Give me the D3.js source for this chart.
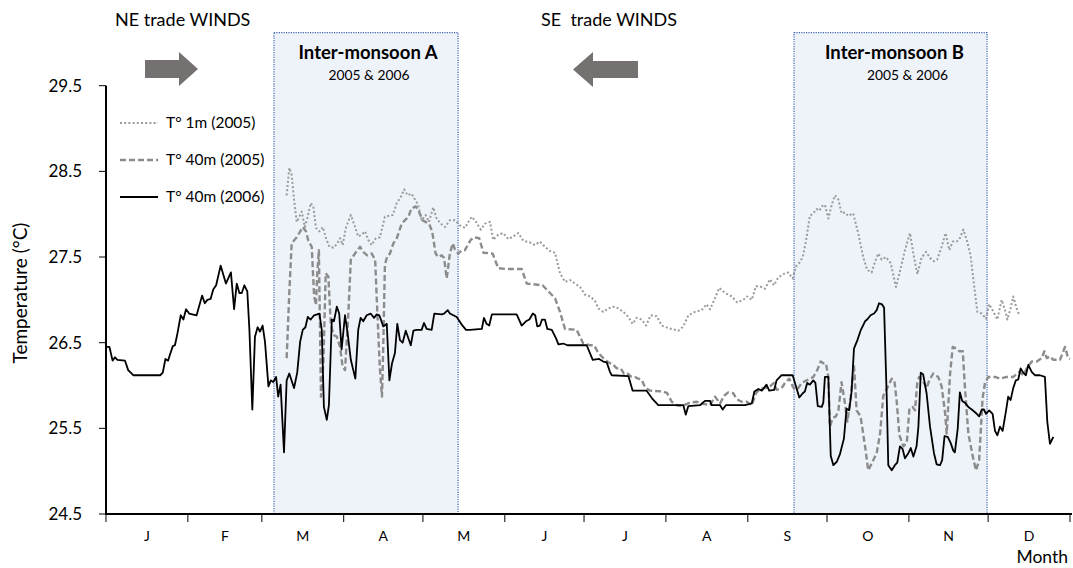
<!DOCTYPE html>
<html><head><meta charset="utf-8">
<script src="https://cdn.jsdelivr.net/npm/d3@7"></script>
<style>
html,body{margin:0;padding:0;background:#fff;}
svg{display:block;font-family:Lato,"Open Sans",sans-serif;}
</style></head>
<body><svg id="chart" width="1073" height="568"></svg>
<script>
// ---------- data ----------
const monthLabels = ["J","F","M","A","M","J","J","A","S","O","N","D"];
const monthStarts = [0,31,59,90,120,151,181,212,243,273,304,334,365];
const yTicks = [24.5,25.5,26.5,27.5,28.5,29.5];
const seriesNames = ["T° 1m (2005)","T° 40m (2005)","T° 40m (2006)"];
const periods = [
  {name:"Inter-monsoon A", sub:"2005 & 2006", start:63.6, end:133.3},
  {name:"Inter-monsoon B", sub:"2005 & 2006", start:260.5, end:333.6}
];
const windLabels = ["NE trade WINDS","SE  trade WINDS"];

// T° 1m (2005)  [day of year, °C]
const t1m2005 = [[68.4,28.22],[69.4,28.54],[70.3,28.46],[71.2,28.17],[72.2,27.91],[73.2,27.97],[74.1,28.03],[75.3,27.85],[76.2,27.95],[77.5,28.13],[78.5,28.09],[79.5,27.84],[80.8,27.80],[82.1,27.85],[83.3,27.72],[84.6,27.62],[86.1,27.61],[87.4,27.65],[88.6,27.72],[89.6,27.64],[90.9,27.85],[92.7,27.99],[94.3,27.85],[95.5,27.74],[96.8,27.76],[98.1,27.80],[99.3,27.70],[100.6,27.64],[102.2,27.72],[103.7,27.73],[105.6,27.97],[106.9,27.98],[108.6,27.99],[110.1,28.13],[111.6,28.20],[112.9,28.29],[114.2,28.22],[115.7,28.24],[117.0,28.17],[118.2,28.11],[119.5,27.93],[121.0,27.99],[122.3,27.91],[123.9,28.08],[125.2,27.95],[126.7,27.89],[128.4,27.85],[130.2,27.93],[132.1,27.93],[134.0,27.87],[135.9,27.84],[137.6,27.93],[138.5,27.97],[140.1,27.91],[141.9,27.82],[143.5,27.89],[145.4,27.91],[146.6,27.70],[148.5,27.76],[150.4,27.78],[152.3,27.71],[154.2,27.74],[156.1,27.78],[158.0,27.69],[160.5,27.67],[162.4,27.64],[164.3,27.68],[166.2,27.62],[168.1,27.57],[170.0,27.55],[171.9,27.31],[173.8,27.21],[175.7,27.23],[177.6,27.19],[179.5,27.15],[181.4,27.06],[183.3,27.04],[185.1,26.99],[186.4,26.90],[188.3,26.86],[190.2,26.90],[192.1,26.92],[194.0,26.90],[195.9,26.86],[197.8,26.80],[199.4,26.72],[200.9,26.79],[202.8,26.77],[204.5,26.70],[206.2,26.82],[208.5,26.81],[210.4,26.70],[212.9,26.67],[216.7,26.64],[218.6,26.69],[220.5,26.82],[223.0,26.86],[225.5,26.88],[227.4,26.95],[228.7,26.89],[230.6,27.02],[232.2,27.14],[234.4,27.08],[236.9,27.04],[239.0,26.97],[241.3,27.00],[242.8,27.04],[244.5,27.00],[246.1,27.16],[248.3,27.15],[249.5,27.13],[251.4,27.24],[252.9,27.17],[254.5,27.26],[256.4,27.30],[258.3,27.32],[260.0,27.25],[261.2,27.39],[262.5,27.43],[263.8,27.50],[265.0,27.68],[266.5,27.98],[267.8,28.01],[269.1,28.06],[270.1,28.04],[271.0,28.09],[272.2,28.11],[273.5,27.95],[274.8,28.11],[276.0,28.22],[277.3,28.17],[278.5,28.01],[279.8,28.02],[281.0,27.98],[282.9,28.01],[284.8,27.78],[286.7,27.50],[288.2,27.35],[289.9,27.32],[291.2,27.45],[292.4,27.54],[293.7,27.47],[295.3,27.50],[297.1,27.43],[299.1,27.15],[300.6,27.33],[302.5,27.58],[304.4,27.78],[305.7,27.54],[307.2,27.30],[308.8,27.49],[310.5,27.56],[312.0,27.49],[313.5,27.45],[314.7,27.47],[316.4,27.62],[317.9,27.78],[319.3,27.58],[320.6,27.68],[322.1,27.68],[323.3,27.72],[324.6,27.82],[325.9,27.70],[327.4,27.51],[328.6,27.19],[329.9,26.86],[331.6,26.84],[333.2,26.78],[334.4,26.95],[336.0,26.86],[337.5,26.77],[339.1,27.00],[340.4,26.88],[341.3,26.77],[342.5,26.90],[343.5,27.04],[344.8,26.90],[345.8,26.82]];

// T° 40m (2005)
const t40m2005 = [[68.4,26.32],[69.4,27.08],[70.3,27.66],[72.2,27.73],[74.5,27.85],[75.7,27.80],[76.6,27.69],[77.9,27.62],[78.8,27.04],[79.5,26.94],[80.0,27.31],[80.6,27.58],[81.4,25.87],[82.3,26.26],[83.2,27.31],[84.2,27.27],[85.1,26.73],[86.1,26.59],[87.4,26.57],[88.6,26.45],[89.6,26.22],[90.5,26.18],[91.7,26.80],[92.7,27.47],[93.6,27.51],[95.2,27.58],[96.2,27.62],[97.4,27.56],[98.9,27.52],[100.6,27.54],[101.9,27.47],[102.7,26.88],[103.7,26.20],[104.5,25.87],[105.0,26.49],[105.6,27.41],[106.5,27.51],[107.5,27.54],[108.8,27.66],[110.1,27.72],[112.0,27.89],[113.2,27.93],[114.5,27.97],[115.7,28.07],[117.3,28.09],[118.5,28.03],[119.8,27.93],[121.0,27.91],[122.3,27.89],[123.5,27.80],[124.8,27.54],[125.8,27.50],[127.1,27.52],[128.0,27.49],[129.0,27.25],[130.2,27.54],[131.3,27.66],[132.1,27.59],[133.4,27.54],[134.7,27.58],[135.9,27.58],[136.6,27.62],[138.1,27.70],[139.3,27.73],[141.3,27.72],[142.9,27.55],[146.4,27.54],[148.5,27.37],[151.7,27.36],[157.4,27.36],[159.3,27.19],[165.3,27.17],[168.1,27.08],[170.0,27.02],[171.9,26.86],[173.8,26.66],[178.2,26.65],[180.7,26.49],[183.3,26.47],[184.8,26.47],[186.4,26.38],[188.3,26.32],[190.2,26.27],[191.8,26.25],[193.4,26.20],[194.9,26.20],[196.1,26.14],[197.1,26.15],[199.0,26.10],[200.3,26.10],[201.5,26.08],[202.8,26.07],[204.1,25.98],[206.0,25.94],[211.0,25.93],[212.5,25.91],[214.2,25.81],[216.1,25.77],[218.0,25.76],[221.1,25.80],[223.7,25.81],[225.5,25.79],[227.2,25.78],[228.7,25.77],[230.6,25.87],[232.5,25.79],[234.0,25.88],[235.6,25.92],[237.5,25.91],[238.8,25.84],[240.7,25.81],[242.6,25.81],[244.5,25.77],[246.1,25.91],[247.6,25.96],[249.5,25.97],[251.4,25.99],[252.9,26.03],[253.9,25.95],[255.8,25.97],[257.1,26.03],[258.7,26.08],[260.0,25.99],[260.9,25.95],[262.1,25.97],[263.4,26.03],[265.3,26.06],[266.8,26.08],[267.8,26.10],[269.3,26.18],[270.6,26.28],[271.6,26.26],[272.6,26.26],[273.5,26.10],[274.1,25.52],[275.1,25.62],[276.4,25.64],[277.3,25.71],[278.5,26.04],[279.8,25.79],[280.7,25.58],[282.0,25.87],[283.2,26.24],[284.2,25.71],[285.7,25.64],[287.4,25.29],[288.6,25.01],[289.9,25.09],[291.8,25.21],[293.1,25.44],[294.3,25.88],[295.8,25.97],[297.5,26.08],[298.5,26.06],[299.4,25.81],[300.4,25.42],[301.9,25.29],[303.2,25.33],[304.2,25.73],[305.4,25.75],[306.3,25.71],[307.2,26.04],[307.9,26.10],[308.8,26.06],[309.7,26.03],[310.7,25.97],[311.7,26.06],[313.2,26.14],[315.1,26.10],[316.4,25.99],[317.7,25.68],[318.3,25.44],[319.6,26.14],[320.6,26.45],[322.1,26.43],[323.1,26.40],[324.4,26.40],[325.2,25.99],[326.5,25.44],[328.2,25.17],[329.4,25.01],[330.6,25.13],[331.9,25.85],[332.8,26.03],[334.1,26.10],[336.6,26.10],[338.5,26.08],[341.0,26.10],[343.5,26.10],[345.8,26.16],[347.3,26.12],[348.6,26.20],[350.5,26.28],[352.4,26.28],[354.3,26.32],[355.3,26.40],[356.2,26.32],[357.4,26.34],[358.7,26.30],[361.2,26.30],[363.1,26.45],[364.3,26.32],[365.0,26.31]];

// T° 40m (2006)
const t40m2006 = [[0.3,26.45],[1.3,26.45],[2.5,26.29],[3.4,26.33],[4.3,26.30],[7.2,26.29],[8.4,26.18],[10.3,26.12],[20.5,26.12],[21.5,26.15],[22.5,26.31],[23.5,26.29],[24.2,26.36],[25.3,26.46],[26.1,26.47],[27.0,26.60],[28.3,26.82],[29.3,26.77],[30.3,26.89],[31.5,26.84],[34.3,26.82],[36.4,27.05],[37.4,26.96],[38.4,27.00],[39.6,27.01],[40.6,27.12],[41.7,27.17],[43.4,27.40],[45.4,27.19],[47.3,27.32],[48.5,26.89],[49.5,27.19],[50.5,27.08],[51.4,27.08],[52.4,27.17],[53.5,27.10],[54.3,26.65],[55.4,25.72],[56.4,26.57],[57.4,26.68],[58.3,26.63],[59.3,26.70],[60.2,26.51],[61.5,25.99],[62.4,26.06],[63.3,26.04],[64.4,26.10],[65.2,25.87],[66.1,26.01],[67.4,25.22],[68.4,26.06],[69.4,26.14],[71.2,25.97],[72.4,26.15],[73.5,26.51],[74.5,26.65],[75.5,26.68],[76.4,26.80],[77.5,26.77],[78.8,26.82],[80.8,26.84],[81.7,26.65],[82.5,25.75],[83.6,25.60],[84.4,25.77],[85.5,26.77],[86.3,26.75],[87.4,26.92],[88.3,26.84],[89.2,26.42],[90.5,26.82],[91.4,26.63],[92.7,26.30],[94.4,26.08],[95.5,26.65],[96.4,26.79],[97.4,26.75],[98.7,26.82],[100.2,26.84],[101.5,26.79],[102.5,26.83],[103.5,26.82],[105.0,26.69],[106.3,26.72],[107.3,26.06],[108.3,26.26],[109.4,26.38],[110.3,26.72],[111.3,26.53],[112.3,26.50],[113.5,26.64],[115.4,26.47],[116.4,26.64],[117.6,26.65],[119.5,26.65],[120.4,26.73],[121.4,26.66],[123.3,26.65],[124.3,26.84],[127.1,26.83],[128.0,26.84],[129.4,26.88],[130.2,26.84],[131.5,26.82],[132.8,26.80],[134.7,26.71],[136.3,26.65],[137.8,26.65],[142.3,26.66],[143.1,26.79],[144.1,26.72],[145.1,26.70],[146.1,26.83],[155.5,26.83],[157.4,26.70],[159.0,26.75],[160.3,26.77],[161.6,26.84],[162.5,26.82],[163.3,26.69],[164.3,26.70],[165.1,26.77],[166.2,26.77],[167.1,26.66],[168.8,26.65],[170.4,26.55],[171.3,26.48],[173.1,26.49],[174.7,26.47],[182.0,26.47],[184.3,26.30],[186.7,26.31],[188.3,26.28],[189.6,26.27],[190.8,26.16],[191.5,26.12],[197.8,26.11],[199.4,25.94],[204.7,25.94],[207.0,25.84],[209.1,25.77],[218.6,25.77],[219.5,25.66],[220.5,25.76],[224.9,25.77],[226.8,25.82],[228.7,25.82],[229.3,25.77],[232.5,25.77],[233.5,25.72],[234.7,25.77],[241.9,25.77],[244.5,25.79],[245.5,25.93],[247.0,25.96],[248.3,25.94],[250.1,26.01],[251.1,25.94],[253.0,25.95],[253.9,26.06],[255.8,26.12],[260.0,26.12],[262.5,25.86],[263.8,25.91],[264.6,25.93],[265.5,26.03],[266.5,26.01],[267.8,26.06],[268.6,26.03],[269.5,25.76],[271.0,25.75],[271.6,25.80],[272.2,26.10],[273.5,26.10],[274.4,25.18],[275.4,25.07],[276.7,25.11],[277.9,25.20],[279.4,25.38],[280.4,25.73],[281.4,25.71],[282.3,25.93],[283.2,26.43],[284.5,26.53],[285.7,26.64],[287.4,26.75],[288.2,26.77],[289.5,26.82],[290.8,26.84],[291.8,26.88],[292.7,26.96],[293.7,26.95],[294.6,26.91],[295.6,25.87],[296.2,25.07],[297.5,25.01],[298.7,25.07],[299.6,25.10],[300.6,25.29],[301.6,25.26],[302.5,25.15],[303.8,25.21],[304.7,25.27],[305.7,25.17],[306.9,25.29],[307.6,25.52],[308.5,26.15],[309.4,26.13],[310.7,25.91],[312.0,25.52],[313.5,25.21],[314.5,25.08],[315.8,25.07],[316.6,25.13],[317.5,25.41],[318.7,25.40],[319.8,25.33],[320.8,25.24],[321.4,25.22],[322.5,25.50],[323.3,25.92],[324.2,25.82],[325.2,25.80],[326.5,25.75],[327.8,25.72],[329.7,25.67],[330.6,25.64],[331.6,25.72],[332.4,25.72],[333.2,25.67],[334.4,25.71],[335.7,25.67],[336.6,25.47],[337.5,25.42],[338.5,25.52],[339.5,25.47],[340.8,25.71],[341.6,25.87],[342.5,25.83],[343.5,25.97],[344.5,26.06],[345.4,26.07],[346.3,26.20],[347.3,26.15],[348.3,26.12],[349.2,26.24],[350.5,26.16],[351.7,26.12],[353.6,26.12],[355.5,26.10],[356.4,25.58],[357.4,25.32],[358.7,25.40]];

// ---------- chart ----------
const svg = d3.select("#chart");
const x = d3.scaleLinear().domain([0,365]).range([106,1070]);
const y = d3.scaleLinear().domain([24.5,29.5]).range([514,85.7]);
const boxTop = 30.12;
const font = 'Lato, "Open Sans", sans-serif';

// shaded periods
const pg = svg.append("g");
pg.selectAll("rect.fill").data(periods).join("rect")
  .attr("x", d=>x(d.start)).attr("y", y(boxTop))
  .attr("width", d=>x(d.end)-x(d.start)).attr("height", y(24.5)-y(boxTop))
  .attr("fill","#eef2f9");

// lines
const line = d3.line().x(d=>x(d[0])).y(d=>y(d[1]));
const styles = [
  {data:t1m2005, stroke:"#9a9a9a", width:2, dash:"2,2.2"},
  {data:t40m2005, stroke:"#8c8c8c", width:2.4, dash:"6,3"},
  {data:t40m2006, stroke:"#000", width:1.8, dash:null}
];
svg.append("g").selectAll("path").data(styles).join("path")
  .attr("d", d=>line(d.data)).attr("fill","none")
  .attr("stroke", d=>d.stroke).attr("stroke-width", d=>d.width)
  .attr("stroke-dasharray", d=>d.dash).attr("stroke-linejoin","round");

// box borders
pg.selectAll("rect.border").data(periods).join("rect")
  .attr("x", d=>x(d.start)).attr("y", y(boxTop))
  .attr("width", d=>x(d.end)-x(d.start)).attr("height", y(24.5)-y(boxTop))
  .attr("fill","none").attr("stroke","#3f67b0").attr("stroke-width",1.2).attr("stroke-dasharray","1.2,1.2");
// period titles
svg.append("g").selectAll("text").data(periods).join("text")
  .attr("x", (d,i)=> i===0 ? (x(d.start)+x(d.end))/2 + 2 : (x(d.start)+x(d.end))/2 + 4)
  .attr("y", 59).attr("text-anchor","middle")
  .attr("font-family",font).attr("font-weight","bold").attr("font-size",18.5).attr("fill","#000")
  .text(d=>d.name);
svg.append("g").selectAll("text").data(periods).join("text")
  .attr("x", (d,i)=> i===0 ? (x(d.start)+x(d.end))/2 + 3 : (x(d.start)+x(d.end))/2 + 17)
  .attr("y", 80).attr("text-anchor","middle")
  .attr("font-family",font).attr("font-size",13.8).attr("fill","#000")
  .text(d=>d.sub);

// wind labels and arrows
svg.append("text").attr("x",115).attr("y",26).attr("font-family",font).attr("font-size",18).text(windLabels[0]);
svg.append("text").attr("x",541).attr("y",26).attr("font-family",font).attr("font-size",18).style("white-space","pre").text(windLabels[1]);
svg.append("polygon").attr("fill","#767171")
  .attr("points","145,60 179,60 179,52 198,69 179,86 179,78 145,78");
svg.append("polygon").attr("fill","#767171")
  .attr("points","638,61 593,61 593,52 573,69.5 593,87 593,78 638,78");

// axes
const yAxis = svg.append("g");
yAxis.append("line").attr("x1",x(0)).attr("x2",x(0)).attr("y1",y(29.5)).attr("y2",y(24.5)).attr("stroke","#000").attr("stroke-width",2);
yAxis.selectAll("line.t").data(yTicks).join("line").attr("class","t")
  .attr("x1",x(0)-7).attr("x2",x(0)).attr("y1",d=>y(d)).attr("y2",d=>y(d)).attr("stroke","#000").attr("stroke-width",1);
yAxis.selectAll("text").data(yTicks).join("text")
  .attr("x",82).attr("y",d=>y(d)).attr("dy","0.35em").attr("text-anchor","end")
  .attr("font-family",font).attr("font-size",17).text(d=>d.toFixed(1));
svg.append("text").attr("transform","translate(27,293) rotate(-90)").attr("text-anchor","middle")
  .attr("font-family",font).attr("font-size",19).text("Temperature (°C)");

const xAxis = svg.append("g");
xAxis.append("line").attr("x1",x(0)-1).attr("x2",x(365)+2).attr("y1",y(24.5)).attr("y2",y(24.5)).attr("stroke","#000").attr("stroke-width",2.2);
xAxis.selectAll("line.t").data(monthStarts).join("line").attr("class","t")
  .attr("x1",d=>x(d)).attr("x2",d=>x(d)).attr("y1",y(24.5)).attr("y2",y(24.5)+8).attr("stroke","#000").attr("stroke-width",1);
xAxis.selectAll("text").data(monthLabels).join("text")
  .attr("x",(d,i)=>(x(monthStarts[i])+x(monthStarts[i+1]))/2).attr("y",541).attr("text-anchor","middle")
  .attr("font-family",font).attr("font-size",14).text(d=>d);
svg.append("text").attr("x",1068).attr("y",563).attr("text-anchor","end")
  .attr("font-family",font).attr("font-size",17.5).text("Month");

// legend
const lg = svg.append("g");
const legendY = [123,160,197];
lg.selectAll("line").data(styles).join("line")
  .attr("x1",120).attr("x2",158).attr("y1",(d,i)=>legendY[i]).attr("y2",(d,i)=>legendY[i])
  .attr("stroke",d=>d.stroke).attr("stroke-width",d=>d.width).attr("stroke-dasharray",d=>d.dash);
lg.selectAll("text").data(seriesNames).join("text")
  .attr("x",166).attr("y",(d,i)=>legendY[i]).attr("dy","0.35em")
  .attr("font-family",font).attr("font-size",15.5).text(d=>d);
</script></body></html>
